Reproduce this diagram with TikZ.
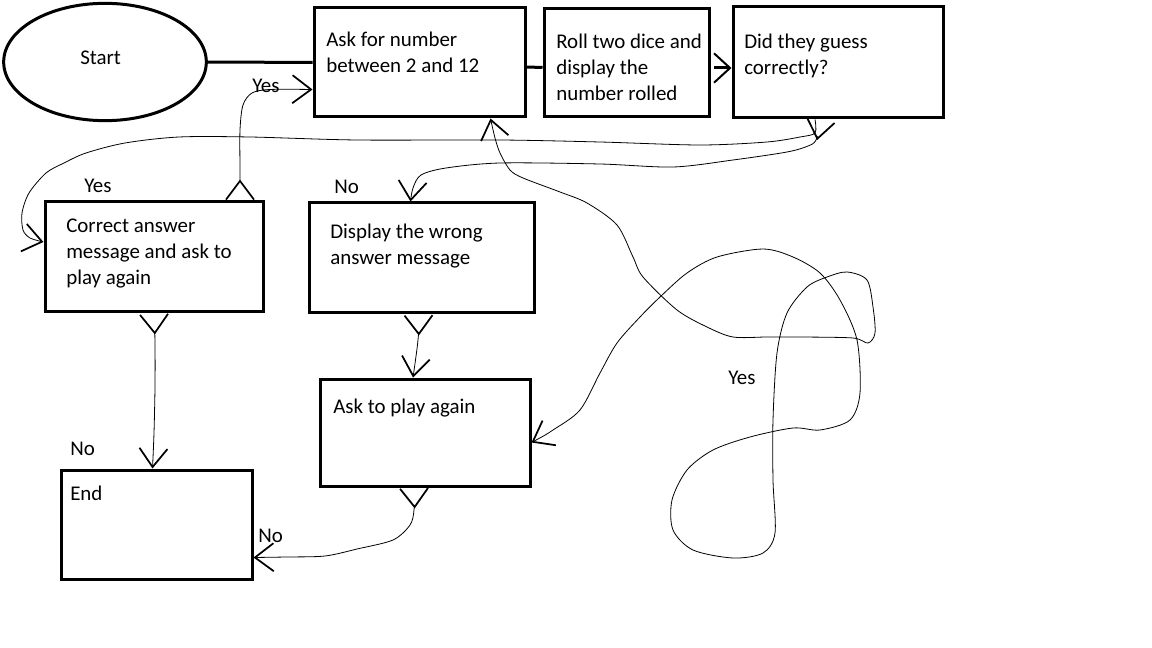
\documentclass[tikz,border=0pt]{standalone}
\usepackage{fontspec}
\setmainfont{Carlito}
\usetikzlibrary{arrows.meta,fit,calc,shapes.geometric}
\tikzset{
  box/.style={draw, line width=2.25pt, inner sep=0pt},
  txtfont/.style={font=\fontsize{15.7}{19.5}\selectfont},
  lbl/.style={txtfont, anchor=north west, inner sep=0pt, align=left, execute at begin node={\rule{0pt}{12pt}}},
  thickline/.style={line width=2.25pt},
  wire/.style={line width=0.6pt},
  barb/.tip={Straight Barb[length=14pt,width=21pt,line width=1.3pt]},
  rbarb/.tip={Straight Barb[length=14pt,width=21pt,line width=1.3pt,reversed]},
}
\begin{document}
\begin{tikzpicture}[x=0.75pt,y=-0.75pt]
\useasboundingbox (0,0) rectangle (1152,648);
% nodes
\node[draw, ellipse, line width=2.25pt, inner sep=0pt, minimum width=152pt, minimum height=88pt] (start) at (105,62) {};
\node[box, fit={(314,8) (525,117)}] (ask) {};
\node[box, fit={(544,9) (709,117)}] (roll) {};
\node[box, fit={(733,7) (943,118)}] (guess) {};
\node[box, fit={(45,202) (263,312)}] (correct) {};
\node[box, fit={(309,203) (534,313)}] (wrong) {};
\node[box, fit={(320,379) (530,486)}] (again) {};
\node[box, fit={(61,470) (252,579)}] (end) {};
% box texts
\node[lbl] (startT) at (80,48) {Start};
\node[lbl] (askT) at (326,32) {Ask for number\\between 2 and 12};
\node[lbl] (rollT) at (556,34) {Roll two dice and\\display the\\number rolled};
\node[lbl] (guessT) at (744,34) {Did they guess\\correctly?};
\node[lbl] (correctT) at (66,219) {Correct answer\\message and ask to\\play again};
\node[lbl] (wrongT) at (330,224) {Display the wrong\\answer message};
\node[lbl] (againT) at (333,397) {Ask to play again};
\node[lbl] (endT) at (70,484) {End};
% connector labels
\node[lbl] (yes1) at (252,76) {Yes};
\node[lbl] (yes2) at (84,176) {Yes};
\node[lbl] (no1) at (334,177) {No};
\node[lbl] (no2) at (70,439) {No};
\node[lbl] (no3) at (258,526) {No};
\node[lbl] (yes3) at (728,368) {Yes};
% thick connectors
\draw[thickline] (start) -- (ask);
\draw[thickline] ($(ask.east)+(0,4.5)$) -- ($(roll.west)+(0,4.5)$);
\draw[thickline, -{Straight Barb[length=12pt,width=22pt,line width=1.5pt]}] ($(roll.east)+(3,5)$) -- ($(guess.west)+(0,5.5)$);
% thin connectors
\draw[wire, {rbarb}-{barb}] plot[smooth] coordinates {($(correct.north)+(86,0)$) (240,170) (240,130) (243,105) (252,93) (270,89.5) ($(ask.west)+(0,27)$)};
\draw[wire, -{barb}] plot[smooth] coordinates {($(guess.south)+(-23,0)$) (815,133) (800,137) (767,142) (700,145) (600,142) (500,140) (357,140) (250,137) (179,137) (125,143) (86,153) (64,163) (46,173) (29,193) (22,213) (23,230) (30,238) ($(correct.west)+(0,-15)$)};
\draw[wire, {rbarb}-{barb}] plot[smooth] coordinates {($(guess.south)+(-17,0)$) (816,140) (808,146) (787,152) (733,160) (673,167) (600,164) (500,163) (446,168) (421,175) (413,188) ($(wrong.north)+(-11,0)$)};
\draw[wire, {barb}-{barb}] plot[smooth] coordinates {($(again.east)+(0,10)$) (553,430) (580,410) (600,373) (617,343) (640,317) (660,297) (687,273) (717,257) (763,249) (793,257) (820,273) (840,300) (857,340) (860,393) (850,420) (820,430) (793,428) (750,437) (713,450) (687,470) (672,500) (673,530) (693,550) (733,558) (763,553) (775,533) (773,480) (773,420) (777,353) (787,313) (807,287) (827,277) (847,272) (867,280) (873,307) (875,333) (868,343) (853,338) (800,337) (767,337) (733,337) (707,327) (677,310) (643,277) (633,257) (617,225) (587,203) (560,192) (523,178) (510,170) (500,153) (495,138) ($(ask.south)+(71,0)$)};
\draw[wire, {rbarb}-{barb}] plot[smooth] coordinates {(correct.south) (155,345) (155,387) (154,433) ($(end.north)+(-4,0)$)};
\draw[wire, {rbarb}-{barb}] plot[smooth] coordinates {($(wrong.south)+(-3,0)$) (418,340) ($(again.north)+(-12,0)$)};
\draw[wire, {rbarb}-{barb}] plot[smooth] coordinates {($(again.south)+(-11,0)$) (414,510) (410,525) (393,540) (357,549) (325,556) (286,557) ($(end.east)+(0,33)$)};
\end{tikzpicture}
\end{document}
